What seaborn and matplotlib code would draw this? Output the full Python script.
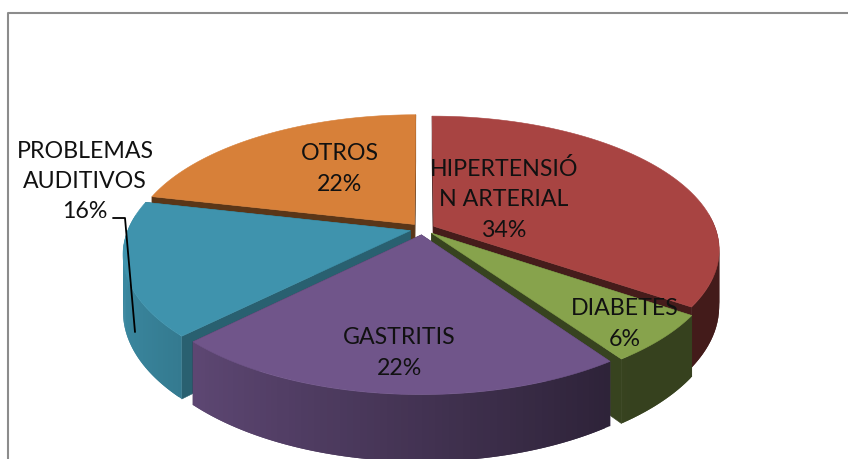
import numpy as np
import matplotlib
matplotlib.use("Agg")
import matplotlib.pyplot as plt
import seaborn as sns

labels = ["HIPERTENSIÓ\nN ARTERIAL", "DIABETES", "GASTRITIS", "PROBLEMAS\nAUDITIVOS", "OTROS"]
values = [34, 6, 22, 16, 22]
colors = ["#A84442", "#87A34C", "#70558A", "#3F93AD", "#D78039"]

sns.set_style("white")
plt.rcParams["font.family"] = ["Lato", "DejaVu Sans"]

# 3d look: circle on a tilted plane, back shrunk by perspective
CX, CY = 422.5, 229
RX, RY = 282, 130
PERSP = 0.172
DEPTH = 55
EXPLODE = 0.045
TWIST = 2.2


def project(x, y, z=0.0):
    d = 1 + PERSP * y
    return CX + RX * x / d, CY + (-RY * y + DEPTH * z) / d


def shade(col, f):
    return tuple(c * f for c in matplotlib.colors.to_rgb(col))


def wall_factor(x):
    return np.clip(0.6 - 0.33 * x, 0.4, 0.95)


def poly(ax, pts, col, lw=0.4):
    xs, ys = zip(*pts)
    ax.fill(xs, ys, color=col, lw=lw)


def draw_slice(ax, start, stop, col, cut):
    mid = np.radians((start + stop) / 2)
    ox, oy = EXPLODE * np.sin(mid), EXPLODE * np.cos(mid)
    th = np.radians(np.linspace(start, stop, 70))
    xs = ox + np.sin(th)
    ys = oy + np.cos(th)

    # cut faces
    for i in (0, -1):
        poly(ax, [project(ox, oy), project(xs[i], ys[i]),
                  project(xs[i], ys[i], 1), project(ox, oy, 1)], shade(col, cut))
    # outer wall, darker to the right; back part is hidden anyway
    # each strip runs under the next one so no seams show
    for i in range(len(th) - 1):
        if np.cos(th[i]) > 0.1:
            continue
        j = min(i + 2, len(th) - 1)
        pts = [project(xs[i], ys[i]), project(xs[j], ys[j]),
               project(xs[j], ys[j], 1), project(xs[i], ys[i], 1)]
        poly(ax, pts, shade(col, wall_factor(np.sin(th[i]))), lw=0)
    # top
    top = [project(ox, oy)] + [project(a, b) for a, b in zip(xs, ys)]
    poly(ax, top, col)


fig = plt.figure(figsize=(8.48, 4.59), dpi=100)
ax = fig.add_axes([0, 0, 1, 1])
ax.set_xlim(0, 848)
ax.set_ylim(459, 0)
ax.axis("off")

ax.plot([8, 8, 848], [459, 13, 13], color="#8C8C8C", lw=1.5)

edges = np.cumsum([0] + values) / sum(values) * 360
# small correction for the view, none at the 12 o'clock edge
edges = edges + TWIST * (1 - np.cos(np.radians(edges)) ** 4)
cuts = [0.41, 0.41, 0.6, 0.65, 0.42]
# back slices first so the front ones cover them
for i in [4, 0, 3, 1, 2]:
    draw_slice(ax, edges[i], edges[i + 1], colors[i], cuts[i])

# leader line of PROBLEMAS AUDITIVOS
ax.plot([113, 125, 135], [218, 218, 332], color="black", lw=1.3)

label_pos = [(504, 199.5), (625, 324), (399, 353), (85, 181.5), (340, 169)]
for name, val, (x, y) in zip(labels, values, label_pos):
    ax.text(x, y, f"{name}\n{val}%", ha="center", va="center", fontsize=16.7,
            color="#111111", linespacing=1.53)

fig.savefig("out.png", dpi=100)
